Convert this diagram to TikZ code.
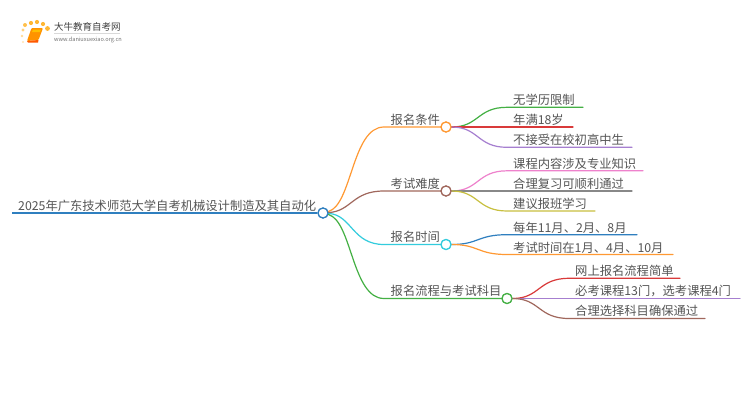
\documentclass[tikz,border=0pt]{standalone}
\usepackage{fontspec}
\setmainfont{Noto Sans CJK SC}
\definecolor{txt}{HTML}{555555}
\definecolor{cblue}{HTML}{2F7FBF}
\definecolor{corange}{HTML}{FF9933}
\definecolor{cbrown}{HTML}{A0675C}
\definecolor{ccyan}{HTML}{33CCDD}
\definecolor{cgreen}{HTML}{44B044}
\definecolor{cred}{HTML}{D93A3A}
\definecolor{cpurple}{HTML}{A67FD0}
\definecolor{cpink}{HTML}{EE82CC}
\definecolor{cgray}{HTML}{888888}
\definecolor{colive}{HTML}{C8C040}
\tikzset{
 x=1pt,y=-1pt,
 lab/.style={anchor=base west,inner sep=0pt,text=txt,font=\fontsize{12.3pt}{14pt}\selectfont},
 hub/.style={circle,draw=#1,fill=white,line width=1.2pt,minimum size=10pt,inner sep=0pt},
 wire/.style={line width=1.2pt,draw=#1},
 curve/.style={line width=1.2pt,draw=#1,line cap=round},
}
\begin{document}
\begin{tikzpicture}
\useasboundingbox (0,0) rectangle (750,410);
\fill[white] (0,0) rectangle (750,410);
% logo
\foreach \px/\py/\r/\o in {23/42/1.1/.3,22/36/1.4/.4,23/30/1.7/.5,25/25/2/.7,31/23/2.1/.8,37/22/2.1/.8,43/24/2.1/.8,47.5/28.5/2.4/.8}
  \fill[orange!70!yellow,opacity=\o] (\px,\py) circle[radius=\r];
\fill[orange!85!yellow,rounded corners=1pt] (31.5,28) -- (43,28) -- (38.5,40) -- (27,41) -- cycle;
\fill[orange!50!yellow] (33,29.5) -- (41,29.5) -- (40,32) -- (32,32) -- cycle;
\fill[orange!70!red] (27,41) -- (38.5,40) -- (38,42.5) -- (28,42.5) -- cycle;
\node[anchor=base west,inner sep=0pt,text=black!75,font=\fontsize{9.5pt}{10pt}\selectfont] (brand) at (54,30.5) {大牛教育自考网};
\draw[black!15,line width=.5pt] (54,33.5) -- (120,33.5);
\node[anchor=base west,inner sep=0pt,text=black!55,font=\fontsize{5.6pt}{6pt}\selectfont] (site) at (54,41) {www.daniuxuexiao.org.cn};
% hubs
\node[hub=cblue] (root) at (323,213) {};
\node[hub=corange] (h1) at (446,127) {};
\node[hub=cbrown] (h2) at (446,191) {};
\node[hub=ccyan] (h3) at (446,244.5) {};
\node[hub=cgreen] (h4) at (507,298.5) {};
% coordinates
\coordinate (rs) at (12,213);
\coordinate (a1) at (384,127); \coordinate (a2) at (384,191);
\coordinate (a3) at (384,244.5); \coordinate (a4) at (384,298.5);
\coordinate (l11) at (507,107.3); \coordinate (e11) at (583,107.3);
\coordinate (e12) at (573,127);
\coordinate (l13) at (507,147.3); \coordinate (e13) at (632,147.3);
\coordinate (l21) at (507,170.8); \coordinate (e21) at (643,170.8);
\coordinate (e22) at (632,191);
\coordinate (l23) at (507,211); \coordinate (e23) at (595,211);
\coordinate (l31) at (507,234.7); \coordinate (e31) at (637,234.7);
\coordinate (l32) at (507,254.5); \coordinate (e32) at (673,254.5);
\coordinate (l41) at (569,278.3); \coordinate (e41) at (680,278.3);
\coordinate (e42) at (740,298.5);
\coordinate (l43) at (569,318.5); \coordinate (e43) at (705,318.5);
% connectors
\draw[wire=cblue] (rs) -- (root);
\draw[curve=corange] (root) .. controls (352,205) and (352,127) .. (a1) -- (h1);
\draw[curve=cbrown] (root) .. controls (352,211) and (352,191) .. (a2) -- (h2);
\draw[curve=ccyan] (root) .. controls (352,215) and (352,244.5) .. (a3) -- (h3);
\draw[curve=cgreen] (root) .. controls (352,221) and (352,298.5) .. (a4) -- (h4);
\draw[curve=cgreen] (h1) .. controls (479,127) and (477,107.3) .. (l11) -- (e11);
\draw[curve=cred] (h1) -- (e12);
\draw[curve=cpurple] (h1) .. controls (479,127) and (477,147.3) .. (l13) -- (e13);
\draw[curve=cpink] (h2) .. controls (479,191) and (477,170.8) .. (l21) -- (e21);
\draw[curve=cgray] (h2) -- (e22);
\draw[curve=colive] (h2) .. controls (479,191) and (477,211) .. (l23) -- (e23);
\draw[curve=cblue] (h3) .. controls (479,244.5) and (477,234.7) .. (l31) -- (e31);
\draw[curve=corange] (h3) .. controls (479,244.5) and (477,254.5) .. (l32) -- (e32);
\draw[curve=cred] (h4) .. controls (540,298.5) and (538,278.3) .. (l41) -- (e41);
\draw[curve=cpurple] (h4) -- (e42);
\draw[curve=cbrown] (h4) .. controls (540,298.5) and (538,318.5) .. (l43) -- (e43);
\node[hub=cblue] at (root) {};
\node[hub=corange] at (h1) {};
\node[hub=cbrown] at (h2) {};
\node[hub=ccyan] at (h3) {};
\node[hub=cgreen] at (h4) {};
% labels
\node[lab] (t0) at (18,210) {2025年广东技术师范大学自考机械设计制造及其自动化};
\node[lab] (t1) at (390.5,124) {报名条件};
\node[lab] (t2) at (390.5,188) {考试难度};
\node[lab] (t3) at (390.5,241.5) {报名时间};
\node[lab] (t4) at (390.5,295.5) {报名流程与考试科目};
\node[lab] (t11) at (513,104.5) {无学历限制};
\node[lab] (t12) at (513,124.5) {年满18岁};
\node[lab] (t13) at (513,144.5) {不接受在校初高中生};
\node[lab] (t21) at (513,168) {课程内容涉及专业知识};
\node[lab] (t22) at (513,188) {合理复习可顺利通过};
\node[lab] (t23) at (513,208) {建议报班学习};
\node[lab] (t31) at (513,232) {每年11月、2月、8月};
\node[lab] (t32) at (513,252) {考试时间在1月、4月、10月};
\node[lab] (t41) at (575,275.5) {网上报名流程简单};
\node[lab] (t42) at (575,295.5) {必考课程13门，选考课程4门};
\node[lab] (t43) at (575,315.5) {合理选择科目确保通过};
\end{tikzpicture}
\end{document}
